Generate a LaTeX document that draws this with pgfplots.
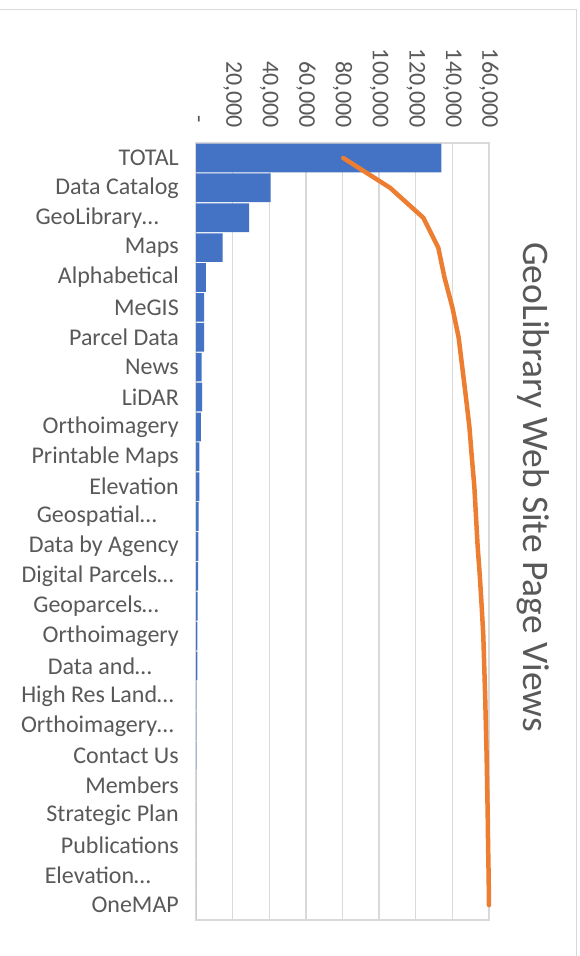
\documentclass[border=0pt]{standalone}
\usepackage{pgfplots}
\pgfplotsset{compat=1.18}
\usepackage{fontspec}
\setmainfont{Carlito}
\definecolor{barblue}{HTML}{4472C4}
\definecolor{lineorange}{HTML}{ED7D31}
\definecolor{gridgray}{HTML}{D9D9D9}
\definecolor{textgray}{HTML}{595959}
\begin{document}
\begin{tikzpicture}
\useasboundingbox (0,0) rectangle (580bp,-956bp);
\fill[white] (0,0) rectangle (580bp,-956bp);
\draw[gridgray, line width=1bp] (0,-9bp) -- (576bp,-9bp) -- (576bp,-956bp);
\begin{axis}[
  at={(196bp,-920bp)}, anchor=south west,
  scale only axis, width=293bp, height=777bp,
  xmin=0, xmax=160000, ymin=-0.5, ymax=25.5, y dir=reverse,
  scaled x ticks=false,
  xtick={0,20000,40000,60000,80000,100000,120000,140000,160000},
  xticklabels={{-\kern5bp},{20,000},{40,000},{60,000},{80,000},{100,000},{120,000},{140,000},{160,000}},
  xticklabel pos=upper,
  xticklabel shift=14bp,
  xticklabel style={rotate=-90, anchor=east, inner sep=1bp, font=\fontsize{24bp}{28bp}\selectfont, text=textgray},
  ytick={0,...,25},
  yticklabels={TOTAL,Data Catalog,{GeoLibrary…\kern20bp},Maps,Alphabetical,MeGIS,Parcel Data,News,LiDAR,Orthoimagery,Printable Maps,Elevation,{Geospatial…\kern22bp},Data by Agency,{Digital Parcels…\kern5bp},{Geoparcels…\kern20bp},Orthoimagery,{Data and…\kern27bp},{High Res Land…\kern5bp},{Orthoimagery…\kern5bp},Contact Us,Members,Strategic Plan,Publications,{Elevation…\kern28bp},OneMAP},
  yticklabel shift=16bp,
  yticklabel style={anchor=east, inner sep=1bp, font=\fontsize{24bp}{28bp}\selectfont, text=textgray},
  major tick length=0pt,
  xmajorgrids, grid style={gridgray, line width=1.3bp},
  axis line style={gridgray, line width=1.3bp},
  clip=false,
]
\addplot[xbar, bar width=0.96, fill=barblue, draw=none] table {
x y
134000 0
40700 1
29050 2
14550 3
5450 4
4400 5
4500 6
3100 7
3300 8
2700 9
1800 10
1800 11
1450 12
1270 13
1100 14
900 15
700 16
700 17
250 18
200 19
150 20
120 21
100 22
80 23
60 24
40 25
};
\addplot[lineorange, line width=4.5bp, line cap=round, line join=round] table {
x y
80400 0
106000 1
124100 2
132300 3
135700 4
140000 5
143400 6
145400 7
147400 8
149300 9
150600 10
152000 11
152900 12
153800 13
155000 14
156000 15
156900 16
157400 17
157900 18
158300 19
158700 20
159000 21
159300 22
159500 23
159800 24
160000 25
};
\end{axis}
\node[rotate=-90, anchor=base, text=textgray, font=\fontsize{37.5bp}{42bp}\selectfont] at (523bp,-487bp) {GeoLibrary Web Site Page Views};
\end{tikzpicture}
\end{document}
